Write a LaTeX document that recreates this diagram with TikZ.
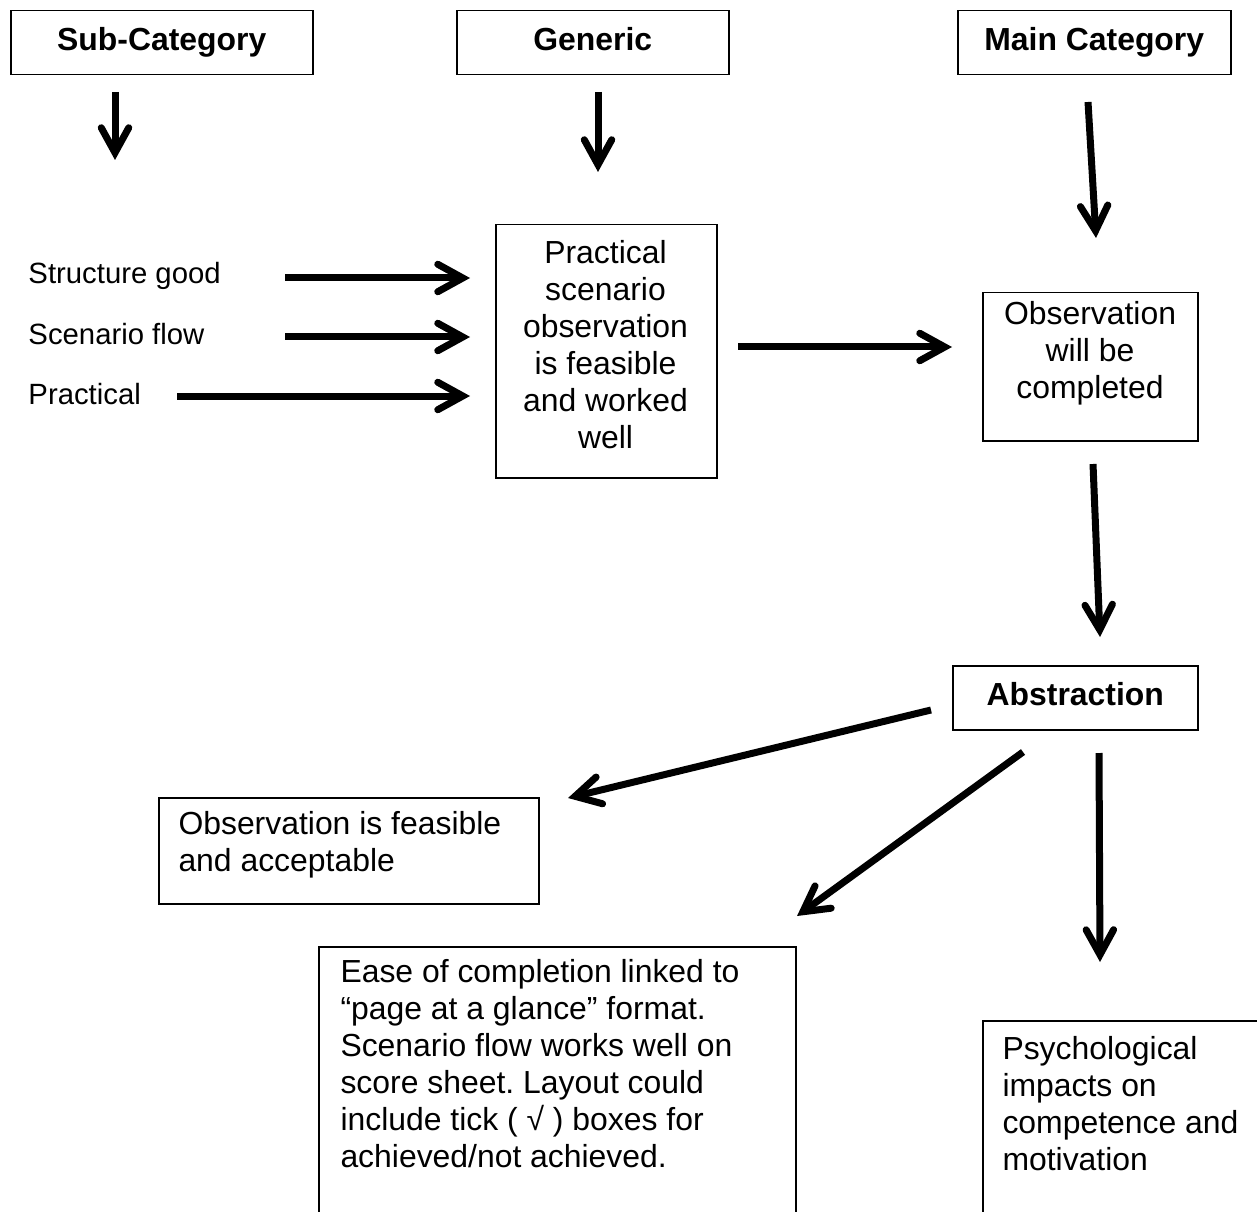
\documentclass[tikz,border=0pt]{standalone}
\usepackage{fontspec}
\setmainfont{Liberation Sans}
\usetikzlibrary{arrows.meta}
\frenchspacing
\begin{document}
\begin{tikzpicture}[x=0.4pt,y=-0.4pt,
  txt/.style={font=\fontsize{12.76pt}{14.8pt}\selectfont, inner sep=0pt},
  lbl/.style={font=\fontsize{11.72pt}{14.8pt}\selectfont, inner sep=0pt},
  head/.style={font=\fontsize{12.76pt}{14.8pt}\selectfont\bfseries, text height=9pt, text depth=2.5pt},
  frame/.style={draw=black, line width=0.6pt, rectangle, inner sep=0pt, anchor=north west},
  flow/.style={line width=2.8pt,
    -{Straight Barb[length=10pt,width=11pt,line cap=round,line join=miter]}}
]
\useasboundingbox (0,0) rectangle (1257,1211);
\clip (0,0) rectangle (1257,1211);

% heading boxes
\node[frame, head, minimum width=120.8pt, minimum height=25.6pt] (sub) at (10,10) {Sub-Category};
\node[frame, head, minimum width=108.8pt, minimum height=25.6pt] (generic) at (456,10) {Generic};
\node[frame, head, minimum width=109.2pt, minimum height=25.6pt] (main) at (957,10) {Main Category};

% sub-category labels
\node[lbl, anchor=base west] (structure) at (28,284) {Structure good};
\node[lbl, anchor=base west] (flowlbl) at (28,344) {Scenario flow};
\node[lbl, anchor=base west] (practical) at (28,405) {Practical};

% generic box
\node[frame, minimum width=88.4pt, minimum height=101.2pt] (genbox) at (495,224) {};
\node[txt, anchor=north, align=center] (gentext) at (605.5,237)
  {\strut Practical\\scenario\\observation\\is feasible\\and worked\\well};

% main category box
\node[frame, minimum width=86pt, minimum height=59.2pt] (obsbox) at (982,292) {};
\node[txt, anchor=north, align=center] (obstext) at (1090,298)
  {\strut Observation\\will be\\completed};

% abstraction
\node[frame, head, minimum width=98pt, minimum height=25.6pt] (abstr) at (952,665) {Abstraction};

% outcome boxes
\node[frame, minimum width=152pt, minimum height=42.4pt] (feasbox) at (158,797) {};
\node[txt, anchor=north west, align=left] (feastext) at (178,808)
  {\strut Observation is feasible\\and acceptable};

\node[frame, minimum width=190.8pt, minimum height=128pt] (easebox) at (318,946) {};
\node[txt, anchor=north west, align=left] (easetext) at (340,956)
  {\strut Ease of completion linked to\\“page at a glance” format.\\Scenario flow works well on\\score sheet. Layout could\\include tick ( √ ) boxes for\\achieved/not achieved.};

\node[frame, minimum width=120pt, minimum height=100pt] (psybox) at (982,1020) {};
\node[txt, anchor=north west, align=left] (psytext) at (1002,1033)
  {\strut Psychological\\impacts on\\competence and\\motivation};

% arrow end points
\coordinate (subA) at (115,92);   \coordinate (subB) at (115,160);
\coordinate (genA) at (598,92);   \coordinate (genB) at (598,172);
\coordinate (mainA) at (1088,102); \coordinate (mainB) at (1096,238);
\coordinate (h1A) at (285,278);   \coordinate (h1B) at (470,278);
\coordinate (h2A) at (285,337);   \coordinate (h2B) at (470,337);
\coordinate (h3A) at (177,396);   \coordinate (h3B) at (470,396);
\coordinate (h4A) at (738,347);   \coordinate (h4B) at (952,347);
\coordinate (vA) at (1093,464);   \coordinate (vB) at (1100,637);
\coordinate (d1A) at (931,710);   \coordinate (d1B) at (568,798);
\coordinate (d2A) at (1023,752);  \coordinate (d2B) at (797,916);
\coordinate (v2A) at (1099,753);  \coordinate (v2B) at (1100,962);

\draw[flow] (subA) -- (subB);
\draw[flow] (genA) -- (genB);
\draw[flow] (mainA) -- (mainB);
\draw[flow] (h1A) -- (h1B);
\draw[flow] (h2A) -- (h2B);
\draw[flow] (h3A) -- (h3B);
\draw[flow] (h4A) -- (h4B);
\draw[flow] (vA) -- (vB);
\draw[flow] (d1A) -- (d1B);
\draw[flow] (d2A) -- (d2B);
\draw[flow] (v2A) -- (v2B);
\end{tikzpicture}
\end{document}
